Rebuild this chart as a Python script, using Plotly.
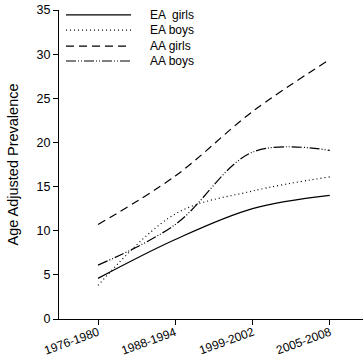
import plotly.graph_objects as go

periods = ["1976-1980", "1988-1994", "1999-2002", "2005-2008"]
ea_girls = [4.6, 9.0, 12.5, 14.0]
ea_boys = [3.8, 11.9, 14.5, 16.1]
aa_girls = [10.7, 16.2, 23.5, 29.4]
aa_boys = [6.1, 10.7, 18.9, 19.1]
y_ticks = [0, 5, 10, 15, 20, 25, 30, 35]
series_names = ["EA  girls", "EA boys", "AA girls", "AA boys"]

dashes = ["solid", "1px,3px", "8px,5px", "10px,2px,1px,2px,1px,2px"]
values = [ea_girls, ea_boys, aa_girls, aa_boys]

xpos = list(range(len(periods)))
fig = go.Figure()
for name, vals, dash in zip(series_names, values, dashes):
    fig.add_trace(go.Scatter(
        x=xpos, y=vals, name=name, mode="lines", showlegend=False,
        line=dict(color="black", width=1.2, dash=dash, shape="spline", smoothing=1.0),
    ))

# custom legend (long line samples like the reference)
leg_y = [0.984, 0.935, 0.883, 0.835]
shapes = []
annotations = []
for name, dash, ly in zip(series_names, dashes, leg_y):
    shapes.append(dict(type="line", xref="paper", yref="paper", x0=0.023, x1=0.237,
                       y0=ly, y1=ly, line=dict(color="black", width=1.2, dash=dash)))
    annotations.append(dict(xref="paper", yref="paper", x=0.293, y=ly, text=name,
                            showarrow=False, xanchor="left", yanchor="middle",
                            font=dict(size=12)))

# rotated x tick labels
for i, p in enumerate(periods):
    annotations.append(dict(xref="x", yref="paper", x=i, y=0, text=p, showarrow=False,
                            xanchor="center", yanchor="middle", textangle=-20,
                            xshift=-26, yshift=-22, font=dict(size=12)))

fig.update_layout(
    width=363, height=358,
    margin=dict(l=59, r=0, t=10, b=39),
    paper_bgcolor="white", plot_bgcolor="white",
    font=dict(family="Liberation Sans, Arial, sans-serif", size=12, color="black"),
    showlegend=False,
    shapes=shapes,
    annotations=annotations,
)
fig.update_xaxes(
    range=[-0.505, 3.43], tickvals=xpos, ticktext=[""] * len(periods),
    showline=True, linecolor="black", linewidth=1, ticks="outside", ticklen=5,
    tickcolor="black", showgrid=False, zeroline=False,
)
fig.update_yaxes(
    range=[0, 35], tickvals=y_ticks, showline=True, linecolor="black", linewidth=1,
    ticks="outside", ticklen=5, tickcolor="black", showgrid=False, zeroline=False,
    title=dict(text="Age Adjusted Prevalence", font=dict(size=14.5), standoff=14),
    tickfont=dict(size=12.5),
)
fig.write_html("out.html", config={"displayModeBar": False},
               post_script="document.body.style.margin='0';")
